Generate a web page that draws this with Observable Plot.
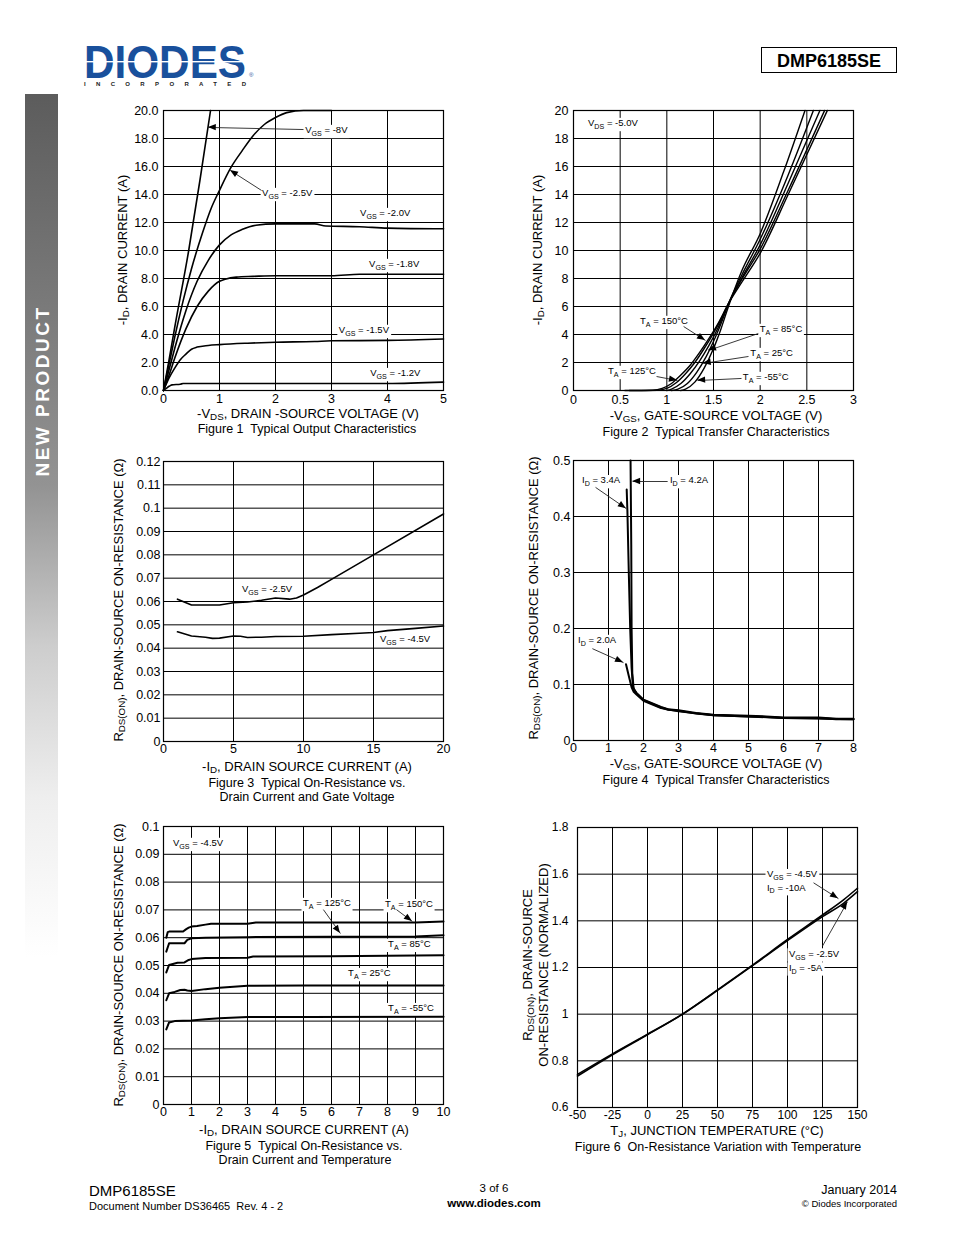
<!DOCTYPE html>
<html><head><meta charset="utf-8">
<script src="https://cdn.jsdelivr.net/npm/d3@7"></script>
<script src="https://cdn.jsdelivr.net/npm/@observablehq/plot@0.6"></script>
<style>
body{margin:0;background:#fff;font-family:"Liberation Sans",Arial,Helvetica,sans-serif;color:#000}
#page{position:relative;width:954px;height:1235px;overflow:hidden;background:#fff}
.t{position:absolute;white-space:pre;line-height:1}
.t sub{font-size:0.75em;vertical-align:-0.3em;line-height:0}
</style></head><body><div id="page"></div>
<script>
const FONT = '"Liberation Sans", Arial, Helvetica, sans-serif';

// ---------------- Figure 1: Typical Output Characteristics ----------------
const f1_xTicks = [0,1,2,3,4,5];
const f1_yTicks = [0,2,4,6,8,10,12,14,16,18,20];
const f1_vgs_8  = [[0,0],[0.1,2.2],[0.2,4.5],[0.45,10],[0.65,15],[0.84,20]];
const f1_vgs_25 = [[0,0],[0.1,1.9],[0.2,3.8],[0.35,6.4],[0.5,8.7],[0.7,11.3],[0.85,13],[1.0,14.3],[1.2,15.9],[1.4,17.1],[1.6,18.2],[1.8,19.0],[2.0,19.5],[2.2,19.85],[2.5,20],[3.0,20]];
const f1_vgs_20 = [[0,0],[0.1,1.5],[0.2,3.0],[0.4,5.7],[0.6,7.8],[0.8,9.3],[1.0,10.4],[1.2,11.1],[1.4,11.5],[1.65,11.8],[2.0,11.9],[2.7,11.9],[2.9,11.75],[3.5,11.7],[4.0,11.6],[5.0,11.55]];
const f1_vgs_18 = [[0,0],[0.1,1.1],[0.2,2.3],[0.4,4.4],[0.6,6.0],[0.8,7.1],[1.0,7.8],[1.1,7.95],[1.3,8.1],[1.6,8.15],[2.0,8.2],[3.0,8.2],[3.5,8.3],[5.0,8.3]];
const f1_vgs_15 = [[0,0],[0.1,0.9],[0.2,1.6],[0.3,2.2],[0.4,2.6],[0.5,2.95],[0.6,3.1],[0.8,3.22],[1.0,3.28],[1.5,3.38],[2.0,3.45],[2.7,3.5],[3.0,3.55],[4.0,3.58],[5.0,3.68]];
const f1_vgs_12 = [[0,0],[0.05,0.15],[0.1,0.3],[0.15,0.4],[0.3,0.45],[0.35,0.5],[1,0.5],[3,0.5],[4,0.5],[5,0.6]];
const f1_labels = [
  {x:2.54,y:18.57,t:"V_{GS} = -8V"},
  {x:1.77,y:14.07,t:"V_{GS} = -2.5V"},
  {x:3.52,y:12.64,t:"V_{GS} = -2.0V"},
  {x:3.68,y:9.0,t:"V_{GS} = -1.8V"},
  {x:3.14,y:4.29,t:"V_{GS} = -1.5V"},
  {x:3.7,y:1.21,t:"V_{GS} = -1.2V"}];
const f1_arrows = [
  {x1:2.5,y1:18.64,x2:0.80,y2:18.79},
  {x1:1.75,y1:14.29,x2:1.196,y2:15.71}];

// ---------------- Figure 2: Typical Transfer Characteristics ----------------
const f2_xTicks = [0,0.5,1,1.5,2,2.5,3];
const f2_yTicks = [0,2,4,6,8,10,12,14,16,18,20];
const f2_ta150 = [[0.55,0],[0.85,0.02],[0.95,0.15],[1.05,0.5],[1.15,1.1],[1.25,1.8],[1.35,2.7],[1.45,3.7],[1.55,4.8],[1.66,6.2],[1.8,7.7],[2.0,9.8],[2.3,14.0],[2.72,20]];
const f2_ta125 = [[0.6,0],[0.9,0.02],[1.0,0.15],[1.1,0.55],[1.2,1.2],[1.3,2.0],[1.4,3.0],[1.5,4.1],[1.58,5.1],[1.66,6.2],[1.8,7.9],[2.0,10.1],[2.3,14.3],[2.69,20]];
const f2_ta85  = [[1.0,0],[1.05,0.1],[1.15,0.5],[1.25,1.2],[1.35,2.1],[1.45,3.2],[1.55,4.5],[1.66,6.2],[1.8,8.0],[2.0,10.4],[2.3,14.8],[2.64,20]];
const f2_ta25  = [[1.05,0],[1.12,0.1],[1.22,0.5],[1.32,1.3],[1.42,2.4],[1.52,3.8],[1.6,5.1],[1.66,6.2],[1.8,8.2],[2.0,10.8],[2.3,15.4],[2.57,20]];
const f2_ta_55 = [[1.15,0],[1.2,0.1],[1.3,0.6],[1.4,1.6],[1.5,3.0],[1.58,4.4],[1.66,6.0],[1.8,8.5],[2.0,11.2],[2.25,15.6],[2.48,20]];
const f2_labels = [
  {x:0.161,y:19.07,t:"V_{DS} = -5.0V"},
  {x:0.718,y:4.93,t:"T_{A} = 150°C"},
  {x:2.0,y:4.36,t:"T_{A} = 85°C"},
  {x:1.90,y:2.64,t:"T_{A} = 25°C"},
  {x:0.375,y:1.36,t:"T_{A} = 125°C"},
  {x:1.82,y:0.93,t:"T_{A} = -55°C"}];
const f2_arrows = [
  {x1:1.18,y1:4.57,x2:1.414,y2:3.57},
  {x1:1.98,y1:4.07,x2:1.446,y2:2.86},
  {x1:1.875,y1:2.43,x2:1.39,y2:1.93},
  {x1:0.89,y1:1.0,x2:1.114,y2:0.71},
  {x1:1.80,y1:0.86,x2:1.33,y2:0.71}];

// ---------------- Figure 3: On-Resistance vs Drain Current and Gate Voltage ----------------
const f3_xTicks = [0,5,10,15,20];
const f3_yTicks = [0,0.01,0.02,0.03,0.04,0.05,0.06,0.07,0.08,0.09,0.1,0.11,0.12];
const f3_vgs25 = [[1,0.061],[2,0.0585],[3,0.0585],[4,0.0585],[5,0.0595],[6,0.0598],[7,0.0605],[8,0.0615],[9,0.061],[9.5,0.0615],[10,0.0628],[11,0.066],[12,0.0695],[15,0.08],[20,0.0975]];
const f3_vgs45 = [[1,0.047],[2,0.0452],[3,0.0447],[3.5,0.0442],[4,0.0443],[5,0.0452],[5.5,0.0451],[6,0.0446],[7,0.0447],[8,0.045],[10,0.0451],[12,0.0458],[14,0.0464],[15,0.0467],[16,0.0475],[18,0.0485],[20,0.0495]];
const f3_labels = [
  {x:5.64,y:0.0654,t:"V_{GS} = -2.5V"},
  {x:15.5,y:0.0439,t:"V_{GS} = -4.5V"}];

// ---------------- Figure 4: Typical Transfer Characteristics (RDS vs VGS) ----------------
const f4_xTicks = [0,1,2,3,4,5,6,7,8];
const f4_yTicks = [0,0.1,0.2,0.3,0.4,0.5];
const f4_id42 = [[1.63,0.5],[1.65,0.35],[1.66,0.2],[1.68,0.12],[1.72,0.092],[1.8,0.085],[2,0.073],[2.5,0.06],[2.7,0.056],[3,0.054],[3.5,0.049],[4,0.046],[5,0.044],[5.5,0.043],[6,0.041],[7,0.041],[7.5,0.039],[8,0.039]];
const f4_id34 = [[1.52,0.448],[1.54,0.41],[1.58,0.3],[1.62,0.2],[1.66,0.13],[1.7,0.095],[1.8,0.084],[2,0.072],[2.5,0.059],[2.7,0.055],[3,0.053],[3.5,0.048],[4,0.045],[5,0.043],[5.5,0.042],[6,0.040],[7,0.040],[7.5,0.038],[8,0.038]];
const f4_id20 = [[1.5,0.136],[1.58,0.115],[1.66,0.095],[1.72,0.087],[1.8,0.082],[2,0.071],[2.5,0.058],[3,0.052],[4,0.045],[5,0.043],[6,0.040],[8,0.038]];
const f4_labels = [
  {x:0.257,y:0.464,t:"I_{D} = 3.4A"},
  {x:2.77,y:0.464,t:"I_{D} = 4.2A"},
  {x:0.143,y:0.1786,t:"I_{D} = 2.0A"}];
const f4_arrows = [
  {x1:0.63,y1:0.452,x2:1.51,y2:0.414},
  {x1:2.69,y1:0.4625,x2:1.69,y2:0.4625},
  {x1:0.54,y1:0.164,x2:1.43,y2:0.139}];

// ---------------- Figure 5: On-Resistance vs Drain Current and Temperature ----------------
const f5_xTicks = [0,1,2,3,4,5,6,7,8,9,10];
const f5_yTicks = [0,0.01,0.02,0.03,0.04,0.05,0.06,0.07,0.08,0.09,0.1];
const f5_ta150 = [[0.1,0.06],[0.15,0.062],[0.2,0.0622],[0.5,0.0622],[0.7,0.0622],[0.8,0.063],[0.9,0.0636],[1.0,0.064],[1.2,0.0642],[1.5,0.0647],[1.7,0.065],[2,0.065],[3,0.065],[3.3,0.0655],[5,0.0655],[8,0.0655],[9,0.0655],[10,0.0658]];
const f5_ta125 = [[0.1,0.055],[0.2,0.058],[0.5,0.058],[0.75,0.058],[0.85,0.0592],[1,0.0598],[1.5,0.06],[3,0.0602],[6,0.0603],[9,0.0604],[10,0.0609]];
const f5_ta85  = [[0.1,0.0475],[0.2,0.0502],[0.5,0.051],[0.75,0.0511],[0.9,0.052],[1,0.0523],[1.5,0.0527],[3,0.0528],[3.2,0.0532],[6,0.0533],[10,0.0537]];
const f5_ta25  = [[0.1,0.0375],[0.2,0.040],[0.4,0.0405],[0.6,0.0412],[0.75,0.0413],[0.85,0.041],[1,0.0408],[1.5,0.0415],[2,0.042],[3,0.0427],[5,0.0428],[10,0.0428]];
const f5_ta_55 = [[0.1,0.027],[0.2,0.0295],[0.4,0.030],[1,0.0302],[1.5,0.0307],[2,0.031],[3,0.0315],[5,0.0315],[10,0.0316]];
const f5_labels = [
  {x:0.357,y:0.0939,t:"V_{GS} = -4.5V"},
  {x:5.0,y:0.0723,t:"T_{A} = 125°C"},
  {x:7.93,y:0.0719,t:"T_{A} = 150°C"},
  {x:8.04,y:0.0576,t:"T_{A} = 85°C"},
  {x:6.61,y:0.0471,t:"T_{A} = 25°C"},
  {x:8.04,y:0.0345,t:"T_{A} = -55°C"}];
const f5_arrows = [
  {x1:5.71,y1:0.0701,x2:6.32,y2:0.0615},
  {x1:8.32,y1:0.0701,x2:8.89,y2:0.0658}];

// ---------------- Figure 6: On-Resistance Variation with Temperature ----------------
const f6_xTicks = [-50,-25,0,25,50,75,100,125,150];
const f6_yTicks = [0.6,0.8,1,1.2,1.4,1.6,1.8];
const f6_vgs45 = [[-50,0.742],[-25,0.830],[0,0.914],[25,1.0],[50,1.104],[75,1.21],[100,1.32],[125,1.425],[140,1.49],[150,1.54]];
const f6_vgs25 = [[-50,0.735],[-25,0.826],[0,0.912],[25,1.0],[50,1.102],[75,1.208],[100,1.315],[125,1.418],[140,1.475],[150,1.525]];
const f6_labels = [
  {x:85.7,y:1.598,t:"V_{GS} = -4.5V"},
  {x:85.7,y:1.542,t:"I_{D} = -10A"},
  {x:101.4,y:1.258,t:"V_{GS} = -2.5V"},
  {x:101.4,y:1.198,t:"I_{D} = -5A"}];
const f6_arrows = [
  {x1:118.6,y1:1.563,x2:136.4,y2:1.495},
  {x1:125,y1:1.292,x2:142.9,y2:1.482}];

// ---------------- helpers ----------------
const page = document.getElementById("page");
function toRows(obj){ const rows=[]; for(const [k,arr] of Object.entries(obj)) for(const [x,y] of arr) rows.push({s:k,x,y}); return rows; }
function segs(s){ const out=[]; const re=/_\{([^}]*)\}/g; let last=0,m; while((m=re.exec(s))){ if(m.index>last) out.push({t:s.slice(last,m.index),sub:false}); out.push({t:m[1],sub:true}); last=re.lastIndex;} if(last<s.length) out.push({t:s.slice(last),sub:false}); return out; }
function html(s){ return s.replace(/_\{([^}]*)\}/g,"<sub>$1</sub>"); }
function txt(x,y,s,opt={}){
  const d=document.createElement("div"); d.className="t";
  const fs=opt.size||13;
  d.style.fontSize=fs+"px"; d.style.left=x+"px"; d.style.top=y+"px";
  if(opt.bold) d.style.fontWeight="bold";
  if(opt.color) d.style.color=opt.color;
  let tr = opt.anchor==="start" ? "translate(0,-50%)" : opt.anchor==="end" ? "translate(-100%,-50%)" : "translate(-50%,-50%)";
  if(opt.rotate) tr += " rotate("+opt.rotate+"deg)";
  d.style.transform=tr;
  if(opt.ls) d.style.letterSpacing=opt.ls+"px";
  d.innerHTML=html(s); page.appendChild(d); return d;
}

function makeChart(c){
  const mL=45,mR=20,mT=15,mB=30;
  const W=c.frame[2]-c.frame[0], H=c.frame[3]-c.frame[1];
  const rows=toRows(c.series);
  const plot=Plot.plot({
    width:W+mL+mR, height:H+mT+mB,
    marginLeft:mL, marginRight:mR, marginTop:mT, marginBottom:mB,
    style:{fontFamily:FONT, fontSize:(c.tfs||12.5)+"px", color:"#000", background:"transparent", overflow:"visible"},
    x:{domain:c.xDomain, ticks:c.xTicks, tickFormat:c.xFmt, tickSize:0, tickPadding:c.xPad, label:null},
    y:{domain:c.yDomain, ticks:c.yTicks, tickFormat:c.yFmt, tickSize:0, tickPadding:c.yPad, label:null},
    marks:[
      Plot.ruleX(c.xTicks,{stroke:"#000",strokeWidth:1}),
      Plot.ruleY(c.yTicks,{stroke:"#000",strokeWidth:1}),
      Plot.frame({stroke:"#000",strokeWidth:1.2}),
      Plot.line(rows,{x:"x",y:"y",z:"s",stroke:"#000",strokeWidth:c.lw||1.6,strokeLinejoin:"round",curve:c.curve||"linear"}),
      Plot.link(c.arrows||[],{x1:"x1",y1:"y1",x2:"x2",y2:"y2",stroke:"#222",strokeWidth:0.9})
    ]
  });
  plot.style.position="absolute";
  plot.style.left=(c.frame[0]-mL)+"px";
  plot.style.top=(c.frame[1]-mT)+"px";
  page.appendChild(plot);
  const sx=plot.scale("x"), sy=plot.scale("y");
  const svg=d3.select(plot);
  const lineG=plot.querySelector('g[aria-label="line"]');
  const bgG=document.createElementNS("http://www.w3.org/2000/svg","g");
  plot.insertBefore(bgG,lineG);
  const fs=c.fs||9.5;
  const tg=svg.append("g").attr("font-size",fs).attr("fill","#000").attr("text-anchor","start");
  for(const l of (c.labels||[])){
    const px=sx.apply(l.x), py=sy.apply(l.y)+fs*0.35;
    const t=tg.append("text").attr("x",px).attr("y",py).attr("text-anchor","start");
    let n=0;
    for(const s of segs(l.t)){
      if(s.sub) t.append("tspan").attr("font-size",fs*0.75).attr("dy",fs*0.3).text(s.t);
      else { const sp=t.append("tspan").text(s.t); if(n>0) sp.attr("dy",-fs*0.3); }
      n++;
    }
    const b=t.node().getBBox();
    d3.select(bgG).append("rect").attr("x",b.x-1.5).attr("y",b.y+0.5).attr("width",b.width+3).attr("height",b.height-0.5).attr("fill","#fff");
  }
  for(const a of (c.arrows||[])){
    const x1=sx.apply(a.x1),y1=sy.apply(a.y1),x2=sx.apply(a.x2),y2=sy.apply(a.y2);
    const ang=Math.atan2(y2-y1,x2-x1), L=8, w=3.2;
    const bx=x2-L*Math.cos(ang), by=y2-L*Math.sin(ang);
    const p=[[x2,y2],[bx+w*Math.sin(ang),by-w*Math.cos(ang)],[bx-w*Math.sin(ang),by+w*Math.cos(ang)]];
    svg.append("polygon").attr("points",p.map(q=>q.join(",")).join(" ")).attr("fill","#000");
  }
  return plot;
}
const fmtStr = d=>String(+d.toFixed(2));

makeChart({frame:[163,110,443,390], xDomain:[0,5], yDomain:[0,20], xTicks:f1_xTicks, yTicks:f1_yTicks,
  xFmt:fmtStr, yFmt:d3.format(".1f"), xPad:4, yPad:5, curve:"monotone-x",
  series:{a:f1_vgs_8,b:f1_vgs_25,c:f1_vgs_20,d:f1_vgs_18,e:f1_vgs_15,f:f1_vgs_12}, labels:f1_labels, arrows:f1_arrows});
makeChart({frame:[573,110,853,390], xDomain:[0,3], yDomain:[0,20], xTicks:f2_xTicks, yTicks:f2_yTicks,
  xFmt:fmtStr, yFmt:fmtStr, xPad:5, yPad:5, curve:"monotone-x",
  series:{a:f2_ta150,b:f2_ta125,c:f2_ta85,d:f2_ta25,e:f2_ta_55}, labels:f2_labels, arrows:f2_arrows, lw:1.4});
makeChart({frame:[163,461,443,741], xDomain:[0,20], yDomain:[0,0.12], xTicks:f3_xTicks, yTicks:f3_yTicks,
  xFmt:fmtStr, yFmt:fmtStr, xPad:3, yPad:3,
  series:{a:f3_vgs25,b:f3_vgs45}, labels:f3_labels});
makeChart({frame:[573,460,853,740], xDomain:[0,8], yDomain:[0,0.5], xTicks:f4_xTicks, yTicks:f4_yTicks,
  xFmt:fmtStr, yFmt:fmtStr, xPad:3, yPad:3,
  series:{a:f4_id42,b:f4_id34,c:f4_id20}, labels:f4_labels, arrows:f4_arrows, lw:2});
makeChart({frame:[163,826,443,1104], xDomain:[0,10], yDomain:[0,0.1], xTicks:f5_xTicks, yTicks:f5_yTicks,
  xFmt:fmtStr, yFmt:fmtStr, xPad:3, yPad:4,
  series:{a:f5_ta150,b:f5_ta125,c:f5_ta85,d:f5_ta25,e:f5_ta_55}, labels:f5_labels, arrows:f5_arrows, lw:2});
makeChart({frame:[577,827,857,1107], xDomain:[-50,150], yDomain:[0.6,1.8], xTicks:f6_xTicks, yTicks:f6_yTicks,
  xFmt:fmtStr, yFmt:fmtStr, xPad:3, yPad:9, tfs:12, curve:"monotone-x",
  series:{a:f6_vgs45,b:f6_vgs25}, labels:f6_labels, arrows:f6_arrows, lw:1.6});

// ---------------- axis titles & captions ----------------
txt(308,413,"-V_{DS}, DRAIN -SOURCE VOLTAGE (V)");
txt(307,429,"Figure 1  Typical Output Characteristics",{size:12.5});
txt(122,250,"-I_{D}, DRAIN CURRENT (A)",{rotate:-90});
txt(716,415,"-V_{GS}, GATE-SOURCE VOLTAGE (V)");
txt(716,432,"Figure 2  Typical Transfer Characteristics",{size:12.5});
txt(537,250,"-I_{D}, DRAIN CURRENT (A)",{rotate:-90});
txt(307,766,"-I_{D}, DRAIN SOURCE CURRENT (A)");
txt(307,783,"Figure 3  Typical On-Resistance vs.",{size:12.5});
txt(307,797,"Drain Current and Gate Voltage",{size:12.5});
txt(118,600,"R_{DS(ON)}, DRAIN-SOURCE ON-RESISTANCE (Ω)",{rotate:-90});
txt(716,763,"-V_{GS}, GATE-SOURCE VOLTAGE (V)");
txt(716,780,"Figure 4  Typical Transfer Characteristics",{size:12.5});
txt(533,598,"R_{DS(ON)}, DRAIN-SOURCE ON-RESISTANCE (Ω)",{rotate:-90});
txt(304,1129,"-I_{D}, DRAIN SOURCE CURRENT (A)");
txt(304,1146,"Figure 5  Typical On-Resistance vs.",{size:12.5});
txt(305,1160,"Drain Current and Temperature",{size:12.5});
txt(118,965,"R_{DS(ON)}, DRAIN-SOURCE ON-RESISTANCE (Ω)",{rotate:-90});
txt(717,1130,"T_{J}, JUNCTION TEMPERATURE (°C)");
txt(718,1147,"Figure 6  On-Resistance Variation with Temperature",{size:12.5});
txt(527,965,"R_{DS(ON)}, DRAIN-SOURCE",{rotate:-90});
txt(543,965,"ON-RESISTANCE (NORMALIZED)",{rotate:-90});

// ---------------- header / sidebar / footer ----------------
const side=document.createElement("div");
side.style.cssText="position:absolute;left:25px;top:94px;width:33px;height:890px;background:linear-gradient(to bottom,#5c5c5c 0%,#939393 44%,#cdcdcd 62%,#eeeeee 79%,#ffffff 97%)";
page.appendChild(side);
txt(42,391,"NEW PRODUCT",{bold:true,size:19,color:"#fff",rotate:-90,ls:2.5});

const head=d3.select(page).append("svg").attr("width",954).attr("height",100)
  .style("position","absolute").style("left","0px").style("top","0px").attr("font-family",FONT);
head.append("text").attr("transform","translate(84,78) scale(1,1.12)").attr("x",0).attr("y",0).attr("font-size",42).attr("font-weight","bold")
  .attr("fill","#19509c").attr("textLength",162).attr("lengthAdjust","spacingAndGlyphs").text("DIODES");
head.append("rect").attr("x",84).attr("y",61).attr("width",158).attr("height",1.4).attr("fill","#fff");
head.append("text").attr("x",249).attr("y",77).attr("font-size",6).attr("fill","#19509c").text("®");
head.append("text").attr("x",84).attr("y",86).attr("font-size",6).attr("font-weight","bold").attr("fill","#222")
  .attr("textLength",162).attr("lengthAdjust","spacing").text("INCORPORATED");
head.append("rect").attr("x",761.5).attr("y",47.5).attr("width",135).attr("height",25).attr("fill","none").attr("stroke","#000").attr("stroke-width",1);
head.append("text").attr("x",829).attr("y",67).attr("text-anchor","middle").attr("font-size",18).attr("font-weight","bold").text("DMP6185SE");

txt(89,1190,"DMP6185SE",{anchor:"start",size:15});
txt(89,1206,"Document Number DS36465  Rev. 4 - 2",{anchor:"start",size:11});
txt(494,1189,"3 of 6",{size:11.5});
txt(494,1204,"www.diodes.com",{size:11.5,bold:true});
txt(897,1190,"January 2014",{anchor:"end",size:12.5});
txt(897,1204,"© Diodes Incorporated",{anchor:"end",size:9.5});
</script></body></html>
